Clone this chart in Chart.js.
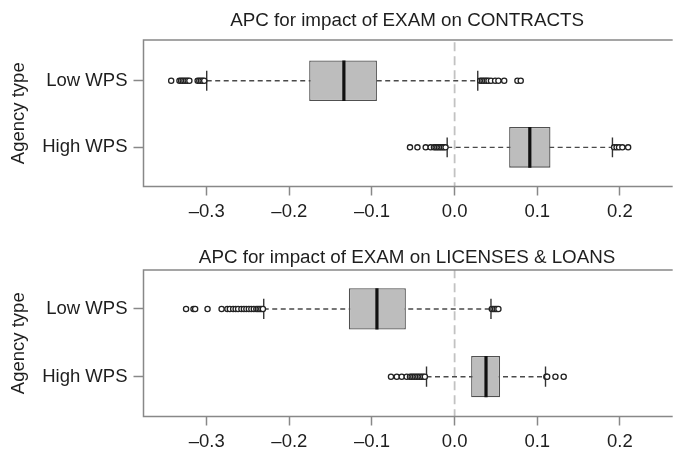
<!DOCTYPE html>
<html>
<head>
<meta charset="utf-8">
<script src="https://cdn.jsdelivr.net/npm/chart.js@4.4.1/dist/chart.umd.min.js"></script>
<style>
  html, body { margin: 0; padding: 0; background: #fff; overflow: hidden; }
  #wrap { position: relative; width: 676px; height: 449px; overflow: hidden; }
  canvas { position: absolute; left: 0; }
</style>
</head>
<body>
<div id="wrap">
  <canvas id="contracts" width="676" height="228" style="top:0"></canvas>
  <canvas id="loans" width="676" height="230" style="top:228px"></canvas>
</div>
<script>
// groups and axis ticks
const yLabels = ['Low WPS', 'High WPS'];
const xTicks = [-0.3, -0.2, -0.1, 0.0, 0.1, 0.2];

// APC for impact of EXAM on CONTRACTS  (Low WPS, High WPS)
const contractsQ1 = [-0.176, 0.066];
const contractsMedian = [-0.134, 0.091];
const contractsQ3 = [-0.094, 0.116];
const contractsLowWhisker = [-0.300, -0.009];
const contractsHighWhisker = [0.028, 0.191];
const contractsOutLow = [-0.343, -0.333, -0.331, -0.329, -0.327, -0.325, -0.323, -0.321,
  -0.311, -0.309, -0.307, -0.305, -0.303,
  0.031, 0.033, 0.035, 0.037, 0.039, 0.041, 0.044, 0.049, 0.053, 0.060, 0.076, 0.080];
const contractsOutHigh = [-0.054, -0.045, -0.035, -0.029, -0.025, -0.023, -0.021, -0.019,
  -0.017, -0.015, -0.013, -0.011, 0.193, 0.196, 0.199, 0.203, 0.210];

// APC for impact of EXAM on LICENSES & LOANS
const loansQ1 = [-0.128, 0.020];
const loansMedian = [-0.094, 0.038];
const loansQ3 = [-0.059, 0.055];
const loansLowWhisker = [-0.231, -0.034];
const loansHighWhisker = [0.044, 0.110];
const loansOutLow = [-0.325, -0.316, -0.314, -0.299, -0.282, -0.275, -0.272, -0.268, -0.265,
  -0.262, -0.258, -0.255, -0.252, -0.249, -0.246, -0.243, -0.240, -0.238, -0.236, -0.234, -0.232,
  0.045, 0.047, 0.049, 0.051, 0.053];
const loansOutHigh = [-0.077, -0.070, -0.064, -0.058, -0.054, -0.052, -0.050, -0.048, -0.046,
  -0.044, -0.042, -0.040, -0.038, -0.036, 0.111, 0.112, 0.122, 0.132];

Chart.defaults.font.family = '"Liberation Sans", Arial, Helvetica, sans-serif';
Chart.defaults.font.size = 18.5;
Chart.defaults.color = '#1e1e1e';

const HALF = 0.305;  // half box height in row units
const CAP = 0.15;    // half whisker cap

const framePlugin = {
  id: 'frame',
  afterDraw(chart) {
    const { ctx, chartArea: a } = chart;
    ctx.save();
    ctx.strokeStyle = '#888';
    ctx.lineWidth = 1.5;
    ctx.beginPath();
    ctx.moveTo(a.right + 2, a.top);
    ctx.lineTo(a.left, a.top);
    ctx.lineTo(a.left, a.bottom);
    ctx.lineTo(a.right + 2, a.bottom);
    ctx.stroke();
    ctx.restore();
  }
};

function fmt(v) {
  if (Math.abs(v) < 1e-9) return '0.0';
  return (v < 0 ? '\u2013' : '') + Math.abs(v).toFixed(1);
}

function boxPanel(id, title, q1, med, q3, lw, hw, outs, opt) {
  const rows = [1, 2];
  const datasets = [];

  // dashed zero line
  datasets.push({
    type: 'line', data: [{ x: 0, y: 0 }, { x: 0, y: 3 }],
    borderColor: '#c2c2c2', borderWidth: 1.8, borderDash: [9, 5], pointRadius: 0, order: 6
  });
  // whiskers
  rows.forEach((r, i) => datasets.push({
    type: 'line', data: [{ x: lw[i], y: r }, { x: hw[i], y: r }],
    borderColor: '#4a4a4a', borderWidth: 1.4, borderDash: [5, 3.5], pointRadius: 0, order: 5
  }));
  // boxes
  datasets.push({
    type: 'bar', indexAxis: 'y',
    data: rows.map((r, i) => ({ x: [q1[i], q3[i]], y: r })),
    backgroundColor: '#bdbdbd', borderColor: '#505050', borderWidth: 1.3, borderSkipped: false,
    barPercentage: 0.61, categoryPercentage: 1, order: 4
  });
  // caps
  rows.forEach((r, i) => {
    [lw[i], hw[i]].forEach(v => datasets.push({
      type: 'line', data: [{ x: v, y: r - CAP }, { x: v, y: r + CAP }],
      borderColor: '#333', borderWidth: 1.4, pointRadius: 0, order: 3
    }));
  });
  // medians
  rows.forEach((r, i) => datasets.push({
    type: 'line', data: [{ x: med[i], y: r - HALF }, { x: med[i], y: r + HALF }],
    borderColor: '#111', borderWidth: 3.2, pointRadius: 0, order: 2
  }));
  // outliers
  datasets.push({
    type: 'scatter',
    data: outs.flatMap((arr, i) => arr.map(v => ({ x: v, y: rows[i] }))),
    pointRadius: 2.6, borderColor: '#222', backgroundColor: '#fff', borderWidth: 1.3, order: 1
  });

  new Chart(document.getElementById(id), {
    type: 'bar',
    data: { datasets: datasets },
    plugins: [framePlugin],
    options: {
      responsive: false,
      animation: false,
      layout: { padding: 0 },
      plugins: {
        legend: { display: false },
        tooltip: { enabled: false },
        title: {
          display: true, text: title, fullSize: false, color: '#1e1e1e',
          font: { size: 18.8, weight: 'normal' },
          padding: opt.titlePad
        }
      },
      scales: {
        x: {
          type: 'linear', min: -0.3765, max: 0.2615, offset: false, beginAtZero: false,
          afterBuildTicks: s => { s.ticks = xTicks.map(v => ({ value: v })); },
          afterFit: s => { s.height = opt.xHeight; },
          ticks: { callback: v => fmt(v), padding: 5, maxRotation: 0, autoSkip: false },
          grid: { offset: false, drawOnChartArea: false, drawTicks: true, tickLength: 9, tickColor: '#888', tickWidth: 1.5 },
          border: { display: false }
        },
        y: {
          type: 'linear', min: opt.yMin, max: opt.yMax, reverse: true, offset: false, beginAtZero: false,
          afterBuildTicks: s => { s.ticks = rows.map(v => ({ value: v })); },
          afterFit: s => { s.width = 143.5; },
          ticks: { callback: (v, i) => yLabels[i], padding: 6 },
          grid: { offset: false, drawOnChartArea: false, drawTicks: true, tickLength: 10, tickColor: '#888', tickWidth: 1.5 },
          border: { display: false },
          title: { display: true, text: 'Agency type', font: { size: 18.5 }, padding: { top: 8, bottom: 0 } }
        }
      }
    }
  });
}

boxPanel('contracts', 'APC for impact of EXAM on CONTRACTS',
  contractsQ1, contractsMedian, contractsQ3, contractsLowWhisker, contractsHighWhisker,
  [contractsOutLow, contractsOutHigh],
  { titlePad: { top: 10, bottom: 7.4 }, xHeight: 41.5, yMin: 0.386, yMax: 2.588 });

boxPanel('loans', 'APC for impact of EXAM on LICENSES & LOANS',
  loansQ1, loansMedian, loansQ3, loansLowWhisker, loansHighWhisker,
  [loansOutLow, loansOutHigh],
  { titlePad: { top: 18.2, bottom: 1.2 }, xHeight: 41.5, yMin: 0.424, yMax: 2.588 });
</script>
</body>
</html>
